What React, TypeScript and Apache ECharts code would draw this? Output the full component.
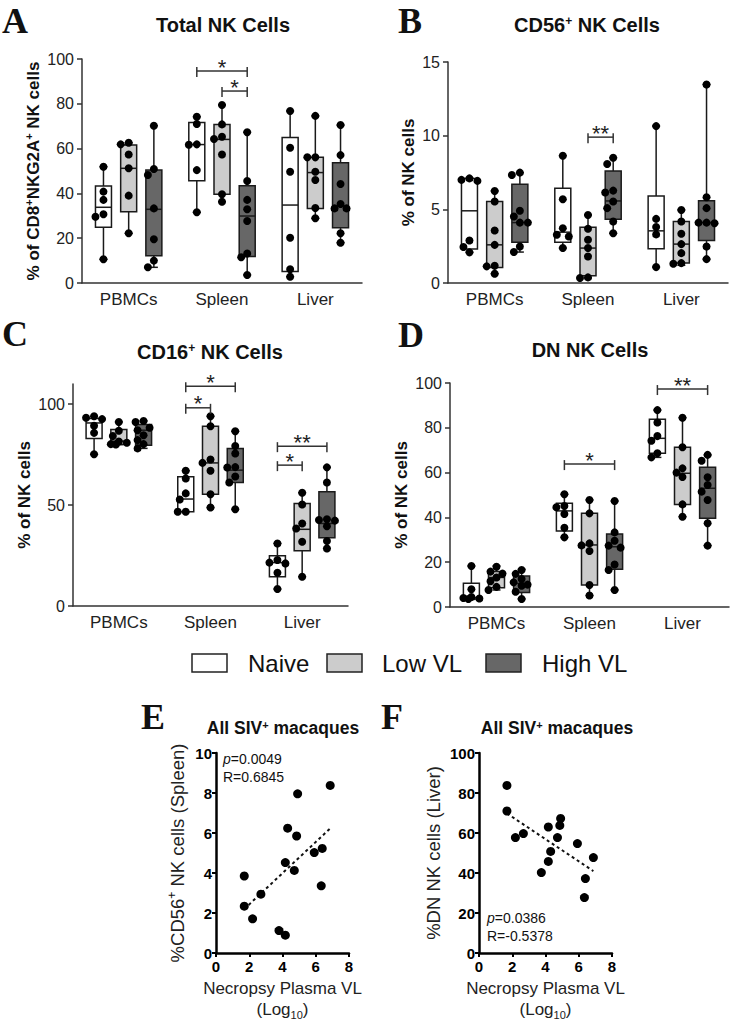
import React, { useEffect, useRef } from "react";
import * as echarts from "echarts";

const FONT = "'Liberation Sans', Arial, sans-serif";
const SERIF = "'Liberation Serif', 'Times New Roman', serif";

const tissues = ["PBMCs", "Spleen", "Liver"];
const groupNames = ["Naive", "Low VL", "High VL"];
const groupFills = ["#ffffff", "#cccccc", "#676767"];

// ---------- Panel A: Total NK cells (% of CD8+NKG2A+) ----------
// box stats per tissue: [min, Q1, median, Q3, max]
const totalNaiveBox = [[10.6, 24.9, 33.8, 43.3, 51.9], [31.6, 45.7, 61.8, 71.7, 74.2], [2.8, 5.1, 34.8, 64.9, 76.8]];
const totalLowBox = [[22.2, 31.8, 51.2, 61.6, 62.6], [36.3, 39.6, 64.1, 70.8, 79.5], [28.9, 33.3, 49.3, 56.1, 74.6]];
const totalHighBox = [[7.0, 12.2, 32.9, 50.4, 70.2], [3.6, 11.8, 29.9, 43.4, 67.3], [18.0, 24.7, 34.4, 53.7, 70.5]];
const totalNaivePts = [[51.9, 40.8, 37.1, 30.7, 29.6, 10.6], [74.2, 71.0, 61.9, 61.7, 50.4, 31.6], [76.8, 60.4, 49.7, 20.2, 6.1, 2.8]];
const totalLowPts = [[62.6, 61.9, 57.4, 51.2, 39.0, 22.2], [79.5, 70.8, 65.3, 64.3, 57.4, 39.6, 36.3], [74.6, 56.1, 56.1, 49.7, 46.0, 33.5, 28.9]];
const totalHighPts = [[70.2, 50.9, 48.2, 33.3, 19.5, 10.0, 7.0], [67.3, 45.5, 37.1, 32.9, 27.7, 13.2, 11.5, 3.6], [70.5, 57.1, 44.2, 35.3, 33.3, 33.3, 22.2, 18.0]];
// brackets: [tissue, groupFrom, groupTo, yValue, stars]
const totalBrackets = [[1, 0, 2, 94.6, 1], [1, 1, 2, 85.7, 1]];

// ---------- Panel B: CD56+ NK cells ----------
const cd56NaiveBox = [[2.08, 2.3, 4.9, 7.1, 7.12], [2.37, 2.77, 3.45, 6.43, 8.64], [1.08, 2.32, 3.54, 5.91, 10.65]];
const cd56LowBox = [[0.63, 1.06, 2.59, 5.53, 6.25], [0.34, 0.5, 2.37, 3.79, 4.62], [1.2, 1.35, 2.64, 4.17, 4.96]];
const cd56HighBox = [[2.1, 2.77, 4.1, 6.7, 7.49], [3.38, 4.33, 5.57, 7.6, 8.5], [1.62, 2.89, 4.1, 5.59, 13.47]];
const cd56NaivePts = [[7.1, 7.0, 6.93, 2.89, 2.44, 2.08], [8.64, 5.68, 3.72, 3.27, 3.16, 2.37], [10.65, 4.35, 3.8, 3.3, 1.08]];
const cd56LowPts = [[6.25, 5.53, 3.56, 2.59, 1.17, 1.13, 0.63], [4.62, 3.68, 2.93, 2.37, 1.8, 0.38, 0.34], [4.96, 4.17, 3.34, 2.64, 2.03, 1.35, 1.31]];
const cd56HighPts = [[7.49, 7.33, 4.9, 4.51, 4.1, 4.1, 2.48, 2.1], [8.5, 8.08, 6.27, 6.14, 5.53, 5.08, 4.17, 3.38], [13.47, 5.82, 5.08, 4.1, 4.06, 4.1, 2.48, 1.62]];
const cd56Brackets = [[1, 1, 2, 9.9, 2]];

// ---------- Panel C: CD16+ NK cells ----------
const cd16NaiveBox = [[75.2, 83.0, 90.7, 92.9, 94.0], [46.7, 46.7, 53.0, 64.0, 67.0], [8.4, 14.5, 21.5, 24.9, 31.0]];
const cd16LowBox = [[80.0, 80.0, 81.7, 87.5, 91.2], [48.8, 55.4, 70.9, 89.1, 94.0], [14.5, 27.4, 38.0, 50.8, 56.1]];
const cd16HighBox = [[78.1, 79.7, 87.1, 89.9, 91.7], [47.9, 61.2, 67.3, 78.1, 86.6], [28.5, 33.8, 40.9, 56.6, 68.7]];
const cd16NaivePts = [[94.0, 93.3, 92.6, 89.3, 85.8, 75.2], [67.0, 63.2, 55.8, 52.8, 46.7, 46.7], [31.0, 22.8, 21.5, 21.1, 16.5, 8.4]];
const cd16LowPts = [[91.2, 86.8, 84.2, 81.5, 80.9, 80.2, 80.0], [94.0, 89.1, 72.6, 70.9, 67.0, 55.4, 48.8], [56.1, 50.3, 40.9, 38.4, 31.8, 14.5]];
const cd16HighPts = [[91.7, 91.2, 88.3, 87.1, 84.6, 82.2, 80.2, 78.1], [86.6, 79.3, 75.6, 68.8, 68.6, 64.2, 61.2, 47.9], [68.7, 61.2, 43.0, 42.6, 42.3, 39.5, 32.2, 28.5]];
const cd16Brackets = [[1, 0, 2, 108.9, 1], [1, 0, 1, 98.2, 1], [2, 0, 2, 79.2, 2], [2, 0, 1, 69.8, 1]];

// ---------- Panel D: DN NK cells ----------
const dnNaiveBox = [[3.4, 3.6, 4.2, 10.6, 18.3], [31.1, 33.9, 42.9, 46.3, 50.3], [66.8, 68.6, 75.3, 83.8, 87.9]];
const dnLowBox = [[7.6, 8.6, 13.2, 15.8, 18.3], [5.1, 9.8, 27.7, 41.8, 47.8], [40.3, 45.8, 59.7, 71.3, 84.5]];
const dnHighBox = [[3.6, 6.5, 10.5, 13.8, 16.8], [7.6, 16.8, 26.9, 32.6, 47.3], [27.4, 39.6, 53.0, 62.4, 67.9]];
const dnNaivePts = [[18.3, 7.9, 4.5, 4.0, 3.8, 3.6], [50.3, 45.1, 44.5, 41.5, 35.4, 31.1], [87.9, 82.4, 76.3, 74.2, 68.6, 66.8]];
const dnLowPts = [[18.0, 15.8, 14.9, 13.2, 11.5, 9.0, 7.6], [47.8, 41.8, 28.4, 27.5, 25.0, 9.8, 5.1], [84.5, 71.3, 61.9, 60.0, 58.0, 45.8, 40.3]];
const dnHighPts = [[16.5, 14.8, 12.5, 11.0, 10.0, 9.5, 6.8, 3.6], [47.3, 33.3, 29.6, 27.4, 26.5, 19.0, 16.5, 7.6], [67.9, 65.3, 57.9, 54.5, 51.5, 47.8, 37.4, 27.4]];
const dnBrackets = [[1, 0, 2, 63.8, 1], [2, 0, 2, 97.3, 2]];

// ---------- Panel E / F: correlations ----------
const vlE = [1.7, 1.7, 2.2, 2.7, 3.79, 4.17, 4.17, 4.31, 4.71, 4.85, 4.91, 5.91, 6.39, 6.33, 6.87];
const cd56SpleenE = [3.85, 2.34, 1.71, 2.94, 1.12, 0.89, 4.52, 6.24, 4.13, 5.85, 7.96, 5.02, 5.23, 3.36, 8.38];
const vlF = [1.68, 1.68, 2.19, 2.67, 3.75, 4.17, 4.17, 4.31, 4.72, 4.86, 4.91, 5.92, 6.4, 6.34, 6.88];
const dnLiverF = [83.8, 71.0, 57.7, 59.7, 40.2, 45.8, 63.0, 50.8, 57.7, 63.8, 67.3, 54.7, 37.2, 27.7, 47.7];
const statsE = ["0.0049", "0.6845"];
const statsF = ["0.0386", "-0.5378"];

// ---------- layout ----------
const BOX_W = 16;
const CAP_W = 8;
const SHIFT = 0.27;
const INK = "#1a1a1a";

const panels = [
  { boxes: [totalNaiveBox, totalLowBox, totalHighBox], pts: [totalNaivePts, totalLowPts, totalHighPts], brackets: totalBrackets,
    grid: { left: 82, top: 59, width: 280, height: 224 }, yMin: 0, yMax: 100, ticks: [0, 20, 40, 60, 80, 100],
    yName: "% of CD8{s|+}NKG2A{s|+} NK cells", nameGap: 39 },
  { boxes: [cd56NaiveBox, cd56LowBox, cd56HighBox], pts: [cd56NaivePts, cd56LowPts, cd56HighPts], brackets: cd56Brackets,
    grid: { left: 448, top: 62, width: 280, height: 221 }, yMin: 0, yMax: 15, ticks: [0, 5, 10, 15],
    yName: "% of NK cells", nameGap: 28 },
  { boxes: [cd16NaiveBox, cd16LowBox, cd16HighBox], pts: [cd16NaivePts, cd16LowPts, cd16HighPts], brackets: cd16Brackets,
    grid: { left: 73, top: 384, width: 275, height: 222 }, yMin: 0, yMax: 110, ticks: [0, 50, 100],
    yName: "% of NK cells", nameGap: 30 },
  { boxes: [dnNaiveBox, dnLowBox, dnHighBox], pts: [dnNaivePts, dnLowPts, dnHighPts], brackets: dnBrackets,
    grid: { left: 450, top: 383, width: 279, height: 224 }, yMin: 0, yMax: 100, ticks: [0, 20, 40, 60, 80, 100],
    yName: "% of NK cells", nameGap: 35 },
];

function dodge(values: number[], pxPerUnit: number): number[] {
  const order = values.map((_, i) => i).sort((a, b) => values[b] - values[a]);
  const placed: { x: number; y: number }[] = [];
  const out = values.map(() => 0);
  const cands = [0, -6, 6, -3, 3, -8, 8];
  for (const i of order) {
    const y = values[i] * pxPerUnit;
    let best = 0;
    let bestD = -1;
    for (const c of cands) {
      let minD = Infinity;
      for (const p of placed) minD = Math.min(minD, Math.hypot(p.x - c, p.y - y));
      if (minD >= 7) { best = c; bestD = Infinity; break; }
      if (minD > bestD) { bestD = minD; best = c; }
    }
    placed.push({ x: best, y });
    out[i] = best;
  }
  return out;
}

const supRich = (size: number, weight: string) => ({
  s: { fontSize: size, fontWeight: weight, fontFamily: FONT, color: "#111", verticalAlign: "top", lineHeight: 8 },
});

function renderBox(params: any, api: any) {
  const t = api.value(0);
  const g = api.value(1);
  const bw = api.size([1, 0])[0];
  const cx = api.coord([t, 0])[0] + (g - 1) * bw * SHIFT;
  const yy = (k: number) => api.coord([t, api.value(k)])[1];
  const yMin = yy(2), yQ1 = yy(3), yMed = yy(4), yQ3 = yy(5), yMax = yy(6);
  const st = { stroke: INK, lineWidth: 1.5 };
  const h = BOX_W / 2, c = CAP_W / 2;
  return {
    type: "group",
    children: [
      { type: "line", shape: { x1: cx, y1: yMax, x2: cx, y2: yQ3 }, style: st },
      { type: "line", shape: { x1: cx, y1: yQ1, x2: cx, y2: yMin }, style: st },
      { type: "line", shape: { x1: cx - c, y1: yMax, x2: cx + c, y2: yMax }, style: st },
      { type: "line", shape: { x1: cx - c, y1: yMin, x2: cx + c, y2: yMin }, style: st },
      { type: "rect", shape: { x: cx - h, y: yQ3, width: BOX_W, height: Math.max(yQ1 - yQ3, 0.5) }, style: { fill: groupFills[g], ...st } },
      { type: "line", shape: { x1: cx - h, y1: yMed, x2: cx + h, y2: yMed }, style: st },
    ],
  };
}

function renderDot(params: any, api: any) {
  const t = api.value(0);
  const g = api.value(1);
  const bw = api.size([1, 0])[0];
  const p = api.coord([t, api.value(2)]);
  return {
    type: "circle",
    shape: { cx: p[0] + (g - 1) * bw * SHIFT + api.value(3), cy: p[1], r: 4 },
    style: { fill: "#000" },
  };
}

function renderBracket(params: any, api: any) {
  const t = api.value(0);
  const ga = api.value(1);
  const gb = api.value(2);
  const bw = api.size([1, 0])[0];
  const base = api.coord([t, api.value(3)]);
  const xa = base[0] + (ga - 1) * bw * SHIFT;
  const xb = base[0] + (gb - 1) * bw * SHIFT;
  const y = base[1];
  const st = { stroke: "#333", lineWidth: 1.5 };
  return {
    type: "group",
    children: [
      { type: "line", shape: { x1: xa, y1: y, x2: xb, y2: y }, style: st },
      { type: "line", shape: { x1: xa, y1: y - 4, x2: xa, y2: y + 6 }, style: st },
      { type: "line", shape: { x1: xb, y1: y - 4, x2: xb, y2: y + 6 }, style: st },
      {
        type: "text",
        style: {
          text: "*".repeat(api.value(4)), x: (xa + xb) / 2, y: y - 4,
          align: "center", verticalAlign: "middle", textAlign: "center", textVerticalAlign: "middle",
          fontSize: 22, fontFamily: FONT, fill: "#222",
        },
      },
    ],
  };
}

function regression(xs: number[], ys: number[]) {
  const n = xs.length;
  const mx = xs.reduce((a, b) => a + b, 0) / n;
  const my = ys.reduce((a, b) => a + b, 0) / n;
  let sxy = 0, sxx = 0;
  for (let i = 0; i < n; i++) { sxy += (xs[i] - mx) * (ys[i] - my); sxx += (xs[i] - mx) ** 2; }
  const b = sxy / sxx;
  const a = my - b * mx;
  const x0 = Math.min(...xs), x1 = Math.max(...xs);
  return [[x0, a + b * x0], [x1, a + b * x1]];
}

function buildOption() {
  const grid: any[] = [];
  const xAxis: any[] = [];
  const yAxis: any[] = [];
  const series: any[] = [];
  const axisLine = { lineStyle: { color: "#333", width: 1.5 } };

  panels.forEach((p, pi) => {
    grid.push({ ...p.grid, containLabel: false, outerBoundsMode: "none" });
    xAxis.push({
      type: "category", gridIndex: pi, data: tissues, boundaryGap: true,
      axisLine, axisTick: { alignWithLabel: true, length: 5, lineStyle: { color: "#333", width: 1.5 } },
      axisLabel: { fontSize: 17, color: "#222", fontFamily: FONT, margin: 8 },
      splitLine: { show: false },
    });
    yAxis.push({
      type: "value", gridIndex: pi, min: p.yMin, max: p.yMax,
      axisLine: { show: true, ...axisLine },
      axisTick: { show: true, length: 5, customValues: p.ticks, lineStyle: { color: "#333", width: 1.5 } },
      axisLabel: { fontSize: 16, color: "#222", fontFamily: FONT, margin: 8, customValues: p.ticks },
      splitLine: { show: false },
      name: p.yName, nameLocation: "middle", nameRotate: 90, nameGap: p.nameGap,
      nameTextStyle: { fontSize: 17, fontWeight: "bold", fontFamily: FONT, color: "#111", lineHeight: 20, rich: supRich(11, "bold") },
    });
    const pxPerUnit = p.grid.height / (p.yMax - p.yMin);
    p.boxes.forEach((boxArr, g) => {
      series.push({
        type: "custom", name: groupNames[g], xAxisIndex: pi, yAxisIndex: pi, z: 2, clip: false,
        itemStyle: { color: groupFills[g], borderColor: INK },
        encode: { x: 0, y: [2, 3, 4, 5, 6] },
        data: boxArr.map((b, t) => [t, g, ...b]),
        renderItem: renderBox,
      });
    });
    const dots: number[][] = [];
    p.pts.forEach((ptsArr, g) => {
      ptsArr.forEach((vals, t) => {
        const dx = dodge(vals, pxPerUnit);
        vals.forEach((v, i) => dots.push([t, g, v, dx[i]]));
      });
    });
    series.push({
      type: "custom", name: "points", xAxisIndex: pi, yAxisIndex: pi, z: 3, clip: false,
      encode: { x: 0, y: 2 }, data: dots, renderItem: renderDot,
    });
    series.push({
      type: "custom", name: "significance", xAxisIndex: pi, yAxisIndex: pi, z: 4, clip: false,
      encode: { x: 0, y: 3 }, data: p.brackets, renderItem: renderBracket,
    });
  });

  // correlation panels
  const corr = [
    { xs: vlE, ys: cd56SpleenE, grid: { left: 216, top: 753, width: 133, height: 200 }, yMax: 10, yInt: 2,
      yName: "%CD56{s|+} NK cells (Spleen)", nameGap: 28 },
    { xs: vlF, ys: dnLiverF, grid: { left: 479, top: 753, width: 133, height: 200 }, yMax: 100, yInt: 20,
      yName: "%DN NK cells (Liver)", nameGap: 35 },
  ];
  corr.forEach((c, k) => {
    const gi = 4 + k;
    const thick = { lineStyle: { color: "#000", width: 2.5 } };
    grid.push({ ...c.grid, containLabel: false, outerBoundsMode: "none" });
    xAxis.push({
      type: "value", gridIndex: gi, min: 0, max: 8, interval: 2,
      axisLine: { show: true, ...thick },
      axisTick: { show: true, length: 4, lineStyle: { color: "#000", width: 2 } },
      axisLabel: { fontSize: 15, fontWeight: "bold", color: "#000", fontFamily: FONT, margin: 6 },
      splitLine: { show: false },
      name: "Necropsy Plasma VL\n(Log{sub|10})", nameLocation: "middle", nameGap: 25,
      nameTextStyle: {
        fontSize: 17, fontFamily: FONT, color: "#222", lineHeight: 21,
        rich: { sub: { fontSize: 11, fontFamily: FONT, color: "#222", verticalAlign: "bottom", lineHeight: 10 } },
      },
    });
    yAxis.push({
      type: "value", gridIndex: gi, min: 0, max: c.yMax, interval: c.yInt,
      axisLine: { show: true, ...thick },
      axisTick: { show: true, length: 4, lineStyle: { color: "#000", width: 2 } },
      axisLabel: { fontSize: 15, fontWeight: "bold", color: "#000", fontFamily: FONT, margin: 4 },
      splitLine: { show: false },
      name: c.yName, nameLocation: "middle", nameRotate: 90, nameGap: c.nameGap,
      nameTextStyle: { fontSize: 18.5, fontFamily: FONT, color: "#222", lineHeight: 22, rich: supRich(12, "normal") },
    });
    series.push({
      type: "scatter", xAxisIndex: gi, yAxisIndex: gi, symbolSize: 9,
      itemStyle: { color: "#000", opacity: 1 }, data: c.xs.map((x, i) => [x, c.ys[i]]), z: 3,
    });
    series.push({
      type: "line", xAxisIndex: gi, yAxisIndex: gi, showSymbol: false, symbol: "none",
      lineStyle: { color: "#111", width: 2, type: [3, 3] }, data: regression(c.xs, c.ys), z: 2,
    });
  });

  const txt = (text: string, x: number, y: number, size: number, weight: string, align: string, rich?: any, family = FONT) => ({
    type: "text",
    style: {
      text, x, y, fontSize: size, fontWeight: weight, fontFamily: family, fill: "#111",
      align, verticalAlign: "middle", textAlign: align, textVerticalAlign: "middle", rich,
    },
  });
  const titleRich = (size: number) => ({
    s: { fontSize: Math.round(size * 0.6), fontWeight: "bold", fontFamily: FONT, fill: "#111", color: "#111", verticalAlign: "top", lineHeight: 8 },
  });

  const graphic: any[] = [
    txt("A", 2, 21, 36, "bold", "left", undefined, SERIF),
    txt("B", 398, 21, 36, "bold", "left", undefined, SERIF),
    txt("C", 2, 334, 36, "bold", "left", undefined, SERIF),
    txt("D", 398, 335, 36, "bold", "left", undefined, SERIF),
    txt("E", 141, 717, 36, "bold", "left", undefined, SERIF),
    txt("F", 381, 717, 36, "bold", "left", undefined, SERIF),
    txt("Total NK Cells", 223, 25, 20, "bold", "center"),
    txt("CD56{s|+} NK Cells", 587, 25, 20, "bold", "center", titleRich(20)),
    txt("CD16{s|+} NK Cells", 210, 352, 20, "bold", "center", titleRich(20)),
    txt("DN NK Cells", 590, 350, 20, "bold", "center"),
    txt("All SIV{s|+} macaques", 283, 728, 17.5, "bold", "center", titleRich(17.5)),
    txt("All SIV{s|+} macaques", 557, 728, 17.5, "bold", "center", titleRich(17.5)),
    txt("{i|p}=" + statsE[0], 223, 759, 14, "normal", "left", { i: { fontStyle: "italic", fontSize: 14, fontFamily: FONT, fill: "#111" } }),
    txt("R=" + statsE[1], 223, 777, 14, "normal", "left"),
    txt("{i|p}=" + statsF[0], 487, 918, 14, "normal", "left", { i: { fontStyle: "italic", fontSize: 14, fontFamily: FONT, fill: "#111" } }),
    txt("R=" + statsF[1], 487, 936, 14, "normal", "left"),
  ];
  const legendX = [192, 327, 486];
  const legendTextX = [248, 382, 542];
  groupNames.forEach((n, g) => {
    graphic.push({
      type: "rect", shape: { x: legendX[g], y: 654, width: 35, height: 18 },
      style: { fill: groupFills[g], stroke: "#222", lineWidth: 1.5 },
    });
    graphic.push(txt(n, legendTextX[g], 663, 24, "normal", "left"));
  });

  return { animation: false, backgroundColor: "#fff", grid, xAxis, yAxis, series, graphic };
}

export default function App() {
  const ref = useRef<HTMLDivElement>(null);
  useEffect(() => {
    if (!ref.current) return;
    const chart = echarts.init(ref.current, undefined, { renderer: "svg" });
    chart.setOption(buildOption() as any);
    return () => chart.dispose();
  }, []);
  return (
    <div
      ref={ref}
      style={{ position: "fixed", left: 0, top: 0, width: 730, height: 1020, background: "#fff" }}
    />
  );
}
